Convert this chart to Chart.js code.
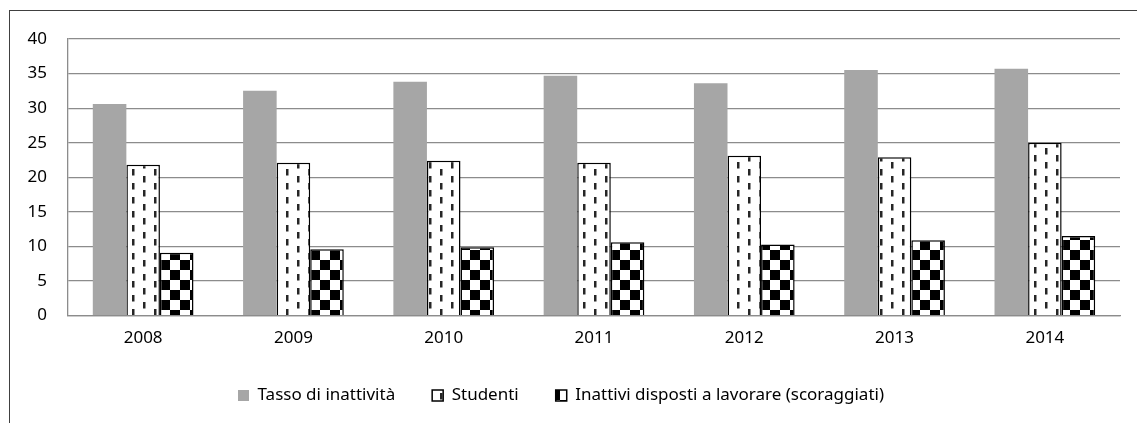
<!DOCTYPE html>
<html>
<head>
<meta charset="utf-8">
<script src="https://cdn.jsdelivr.net/npm/chart.js@4/dist/chart.umd.min.js"></script>
<style>
  html, body { margin: 0; padding: 0; background: #fff; }
  #wrap { position: relative; width: 1137px; height: 423px; overflow: hidden; }
  #frame { position: absolute; left: 9px; top: 10px; width: 1300px; height: 600px;
           border-left: 1.5px solid #404040; border-top: 1.5px solid #404040; }
  canvas { position: absolute; left: 0; top: 0; }
</style>
</head>
<body>
<div id="wrap">
  <div id="frame"></div>
  <canvas id="myChart" width="1137" height="423"></canvas>
</div>
<script>
const ctx = document.getElementById("myChart").getContext("2d");

const years = ["2008", "2009", "2010", "2011", "2012", "2013", "2014"];
const tassoInattivita = [30.6, 32.5, 33.8, 34.7, 33.6, 35.5, 35.7];
const studenti = [21.8, 22.1, 22.4, 22.1, 23.1, 22.9, 25.0];
const scoraggiati = [9.1, 9.6, 9.9, 10.6, 10.3, 10.9, 11.5];
const seriesNames = ["Tasso di inattività", "Studenti", "Inattivi disposti a lavorare (scoraggiati)"];

// fill patterns for the two hatched series
function dashPattern() {
  const c = document.createElement("canvas");
  c.width = 22; c.height = 14;
  const g = c.getContext("2d");
  g.fillStyle = "#fff";
  g.fillRect(0, 0, 22, 14);
  g.fillStyle = "#262626";
  g.fillRect(0, 1, 2.5, 6.5);
  g.fillRect(11, 8, 2.5, 6);
  g.fillRect(11, 0, 2.5, 0.5);
  return ctx.createPattern(c, "repeat");
}

function checkerPattern() {
  const c = document.createElement("canvas");
  c.width = 20; c.height = 20;
  const g = c.getContext("2d");
  g.fillStyle = "#fff";
  g.fillRect(0, 0, 20, 20);
  g.fillStyle = "#000";
  g.fillRect(0, 0, 10, 10);
  g.fillRect(10, 10, 10, 10);
  return ctx.createPattern(c, "repeat");
}

const font = { family: "'Noto Sans', 'Open Sans', sans-serif", size: 17 };
const gridColor = "#8c8c8c";

// move the legend a little: right by 1px, up by 10px
const legendShift = {
  id: "legendShift",
  afterLayout(chart) {
    chart.legend.left += 1;
    chart.legend.right += 1;
    chart.legend.top -= 10;
    chart.legend.bottom -= 10;
  },
};

let chart = new Chart(ctx, {
  type: "bar",
  data: {
    labels: years,
    datasets: [
      {
        label: seriesNames[0],
        backgroundColor: "#a6a6a6",
        borderWidth: 0,
        data: tassoInattivita,
      },
      {
        label: seriesNames[1],
        backgroundColor: dashPattern(),
        borderColor: "#000",
        borderWidth: 1.5,
        data: studenti,
      },
      {
        label: seriesNames[2],
        backgroundColor: checkerPattern(),
        borderColor: "#000",
        borderWidth: 1.5,
        data: scoraggiati,
      },
    ],
  },
  options: {
    responsive: false,
    animation: false,
    layout: { padding: { left: 0, right: 17, top: 39, bottom: -1 } },
    datasets: { bar: { categoryPercentage: 0.67, barPercentage: 1.0 } },
    scales: {
      x: {
        grid: { display: false, drawTicks: false },
        border: { display: true, color: gridColor, width: 1.3 },
        ticks: { color: "#000", font: font, padding: 12 },
      },
      y: {
        min: 0,
        max: 40,
        afterFit(scale) { scale.width = 68; },
        grid: { color: gridColor, lineWidth: 1.3, drawTicks: false },
        border: { display: true, color: gridColor, width: 1.3 },
        ticks: { stepSize: 5, color: "#000", font: font, padding: 21 },
      },
    },
    plugins: {
      tooltip: { enabled: false },
      legend: {
        position: "bottom",
        labels: { font: font, color: "#000", boxWidth: 11, boxHeight: 11, padding: 37 },
      },
    },
  },
  plugins: [legendShift],
});
</script>
</body>
</html>
